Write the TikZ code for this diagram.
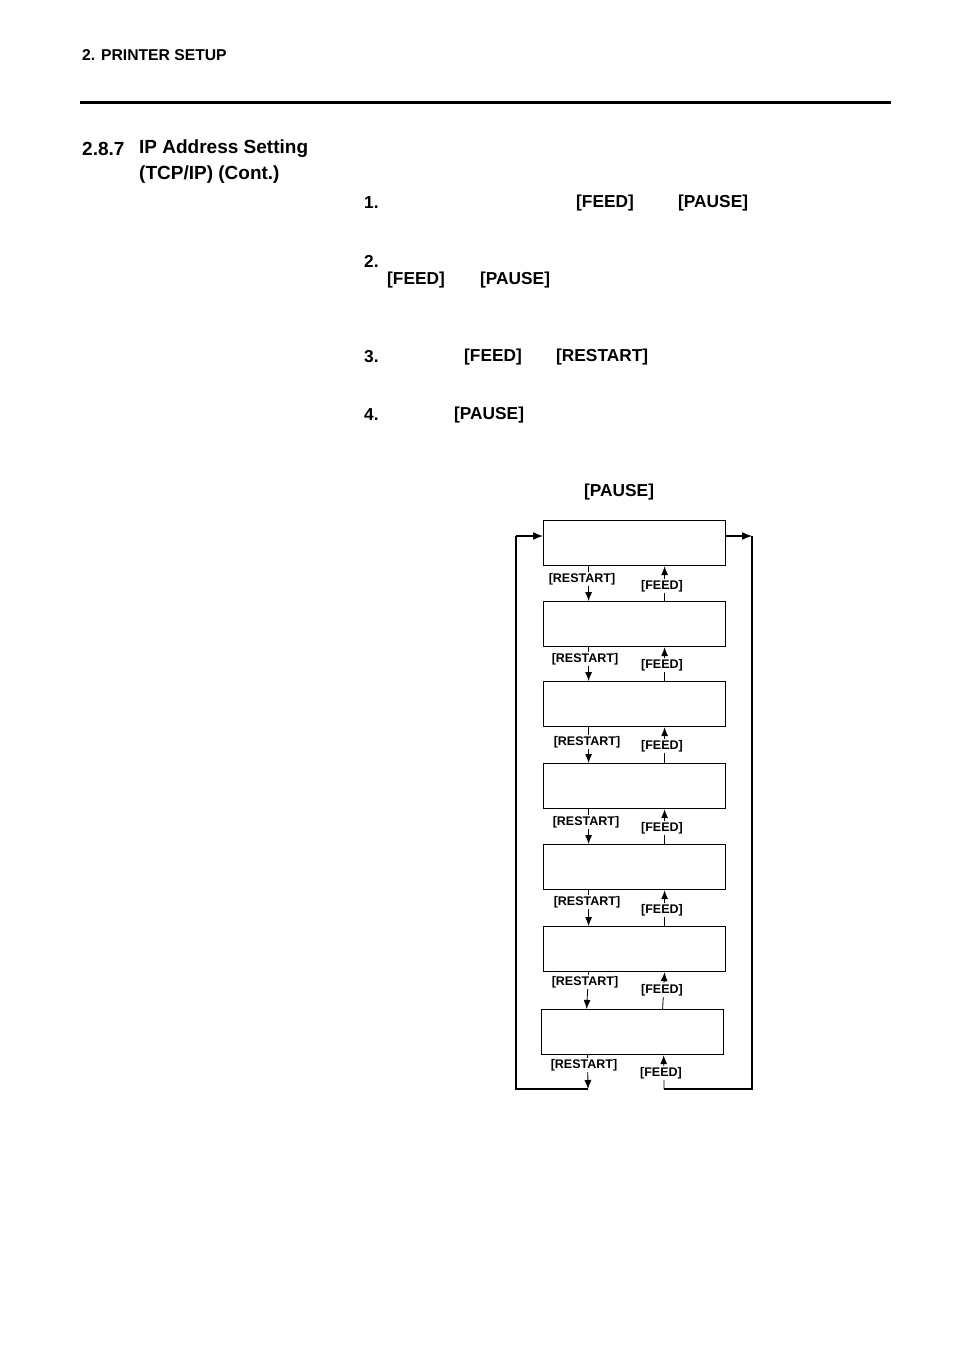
\documentclass[tikz,border=0pt]{standalone}
\usepackage{fontspec}
\setmainfont{Liberation Sans}
\usetikzlibrary{arrows.meta}
\begin{document}
\begin{tikzpicture}[x=1pt,y=-1pt,
  t/.style={anchor=west,inner sep=0,font=\fontsize{17.3}{19}\selectfont\bfseries},
  h/.style={anchor=west,inner sep=0,font=\fontsize{19}{21}\selectfont\bfseries},
  sm/.style={anchor=center,inner sep=1pt,font=\fontsize{12.5}{14}\selectfont\bfseries},
  disp/.style={draw,line width=1.2pt,minimum width=182pt,minimum height=45pt,inner sep=0,anchor=north west},
  arr/.style={-{Latex[length=9pt,width=7pt]},line width=0.8pt},
  ln/.style={line width=1.6pt}]
\useasboundingbox (0,0) rectangle (954,1351);
\node[t,font=\fontsize{15.7}{17}\selectfont\bfseries] (hd) at (82,55) {2. PRINTER SETUP};
\draw[line width=3pt] (80,103) -- (891,103);
\node[h] (sec) at (82,149) {2.8.7};
\node[h] (sec1) at (139,149) {IP Address Setting};
\node[h] (sec2) at (139,175) {(TCP/IP) (Cont.)};
\node[t] (s1) at (364,203) {1.};
\node[t] (s1a) at (576,203) {[FEED]};
\node[t] (s1b) at (678,203) {[PAUSE]};
\node[t] (s2) at (364,261) {2.};
\node[t] (s2a) at (387,280) {[FEED]};
\node[t] (s2b) at (480,280) {[PAUSE]};
\node[t] (s3) at (364,357) {3.};
\node[t] (s3a) at (464,357) {[FEED]};
\node[t] (s3b) at (556,357) {[RESTART]};
\node[t] (s4) at (364,415) {4.};
\node[t] (s4a) at (454,415) {[PAUSE]};
\node[t] (p) at (584,492) {[PAUSE]};
\node[disp] (b1) at (543,520) {};
\node[disp] (b2) at (543,601) {};
\node[disp] (b3) at (543,681) {};
\node[disp] (b4) at (543,763) {};
\node[disp] (b5) at (543,844) {};
\node[disp] (b6) at (543,926) {};
\node[disp] (b7) at (541,1009) {};
\foreach \a/\b/\ry/\fy/\rx in {b1/b2/579/586/582,b2/b3/659/665/585,b3/b4/742/746/587,b4/b5/822/828/586,b5/b6/902/910/587,b6/b7/982/990/585}{
  \draw[arr] ([xshift=-46pt]\a.south) -- ([xshift=-46pt]\b.north);
  \draw[arr] ([xshift=30pt]\b.north) -- ([xshift=30pt]\a.south);
  \node[sm,fill=white] at (\rx,\ry) {[RESTART]};
  \node[sm,fill=white] at (662,\fy) {[FEED]};
}
\coordinate (lb) at (588,1089);
\coordinate (rb) at (664,1089);
\draw[ln] (lb) -- (516,1089) -- (516,536);
\draw[-{Latex[length=10pt,width=8pt]},line width=1.4pt] (516,536) -- (b1.west|-0,536);
\draw[-{Latex[length=10pt,width=8pt]},line width=1.4pt] (b1.east|-0,536) -- (752,536);
\draw[ln] (752,536) -- (752,1089) -- (rb);
\draw[arr] ([xshift=-45pt]b7.south) -- (lb);
\draw[arr] (rb) -- ([xshift=31pt]b7.south);
\node[sm,fill=white] at (584,1065) {[RESTART]};
\node[sm,fill=white] at (661,1073) {[FEED]};
\end{tikzpicture}
\end{document}
